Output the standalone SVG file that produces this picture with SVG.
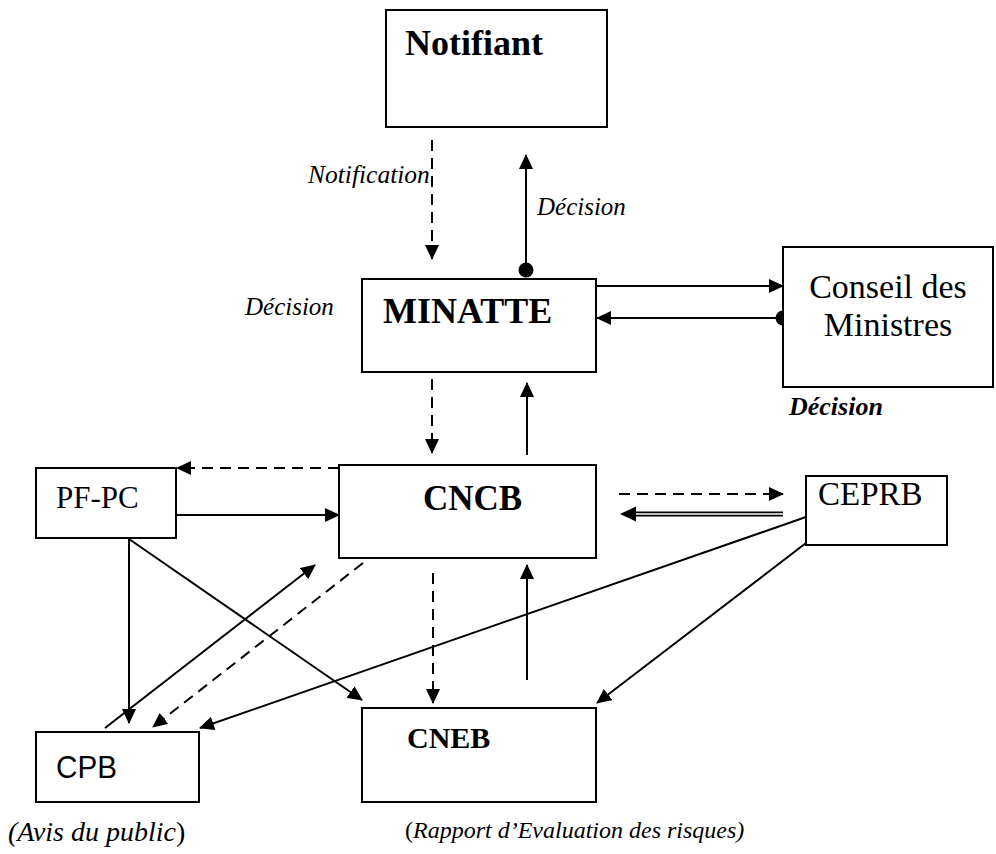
<svg xmlns="http://www.w3.org/2000/svg" width="996" height="854" viewBox="0 0 996 854">
<style>
.box{fill:#fff;stroke:#000;stroke-width:2}
.c{fill:none;stroke:#000;stroke-width:2}
.d{stroke-dasharray:11 7}
.a{marker-end:url(#ah)}
.t{font-family:"Liberation Serif","Times New Roman",serif;fill:#000}
.b{font-weight:bold}
.i{font-style:italic}
</style>
<defs>
<marker id="ah" viewBox="0 0 15 14" refX="14" refY="7" markerWidth="15" markerHeight="14" markerUnits="userSpaceOnUse" orient="auto"><path d="M0,0 L15,7 L0,14 z" fill="#000"/></marker>
<marker id="dot" viewBox="0 0 16 16" refX="8" refY="8" markerWidth="16" markerHeight="16" markerUnits="userSpaceOnUse" orient="auto"><circle cx="8" cy="8" r="7.5" fill="#000"/></marker>
</defs>
<g id="connectors">
<line class="c d a" x1="432" y1="140" x2="432" y2="259"/>
<line class="c a" x1="526" y1="270" x2="526" y2="155" marker-start="url(#dot)"/>
<line class="c a" x1="597" y1="286" x2="783" y2="286"/>
<line class="c a" x1="783" y1="318" x2="597" y2="318" marker-start="url(#dot)"/>
<line class="c d a" x1="432" y1="379" x2="432" y2="453"/>
<line class="c a" x1="527" y1="455" x2="527" y2="383"/>
<line class="c d a" x1="339" y1="468" x2="177" y2="468"/>
<line class="c a" x1="177" y1="515" x2="339" y2="515"/>
<line class="c a" x1="129" y1="539" x2="129" y2="723"/>
<line class="c a" x1="129" y1="539" x2="362" y2="700"/>
<line class="c a" x1="105" y1="728" x2="315" y2="565"/>
<line class="c d a" x1="363" y1="563" x2="153" y2="727"/>
<line class="c a" x1="806" y1="517" x2="200" y2="728"/>
<line class="c a" x1="806" y1="543" x2="597" y2="703"/>
<line class="c d a" x1="433" y1="573" x2="433" y2="703"/>
<line class="c a" x1="527" y1="680" x2="527" y2="565"/>
<line class="c d a" x1="619" y1="494" x2="783" y2="494"/>
<line x1="783" y1="514" x2="630" y2="514" stroke="#000" stroke-width="5"/>
<line x1="784" y1="514" x2="633" y2="514" stroke="#fff" stroke-width="1.5"/>
<path d="M620,514 L636,506.5 L636,521.5 z" fill="#000"/>
</g>
<g id="notifiant">
<rect class="box" x="386" y="10" width="221" height="117"/>
<text class="t b" x="405" y="55" font-size="36">Notifiant</text>
</g>
<g id="minatte">
<rect class="box" x="362" y="279" width="234" height="93"/>
<text class="t b" x="383" y="323" font-size="36">MINATTE</text>
</g>
<g id="conseil">
<rect class="box" x="783" y="247" width="210" height="140"/>
<text class="t" x="888" y="298" font-size="34" text-anchor="middle">Conseil des</text>
<text class="t" x="888" y="336" font-size="34" text-anchor="middle">Ministres</text>
</g>
<g id="cncb">
<rect class="box" x="339" y="465" width="257" height="93"/>
<text class="t b" x="423" y="510" font-size="35">CNCB</text>
</g>
<g id="pfpc">
<rect class="box" x="36" y="468" width="140" height="70"/>
<text class="t" x="56" y="508" font-size="31">PF-PC</text>
</g>
<g id="ceprb">
<rect class="box" x="806" y="476" width="141" height="69"/>
<text class="t" x="818" y="505" font-size="33">CEPRB</text>
</g>
<g id="cpb">
<rect class="box" x="36" y="732" width="163" height="70"/>
<text x="56" y="778" font-size="32" font-family="'Liberation Sans', Arial, sans-serif" textLength="61" lengthAdjust="spacingAndGlyphs">CPB</text>
</g>
<g id="cneb">
<rect class="box" x="362" y="708" width="234" height="94"/>
<text class="t b" x="407" y="748" font-size="30">CNEB</text>
</g>
<g id="labels">
<text class="t i" x="308" y="183" font-size="25.5">Notification</text>
<text class="t i" x="537" y="215" font-size="25">Décision</text>
<text class="t i" x="245" y="315" font-size="25">Décision</text>
<text class="t b i" x="789" y="415" font-size="26">Décision</text>
<text class="t" x="8" y="841" font-size="28"><tspan class="i">(Avis du public</tspan>)</text>
<text class="t" x="405" y="838" font-size="24">(<tspan class="i">Rapport d’Evaluation des risques)</tspan></text>
</g>
</svg>
